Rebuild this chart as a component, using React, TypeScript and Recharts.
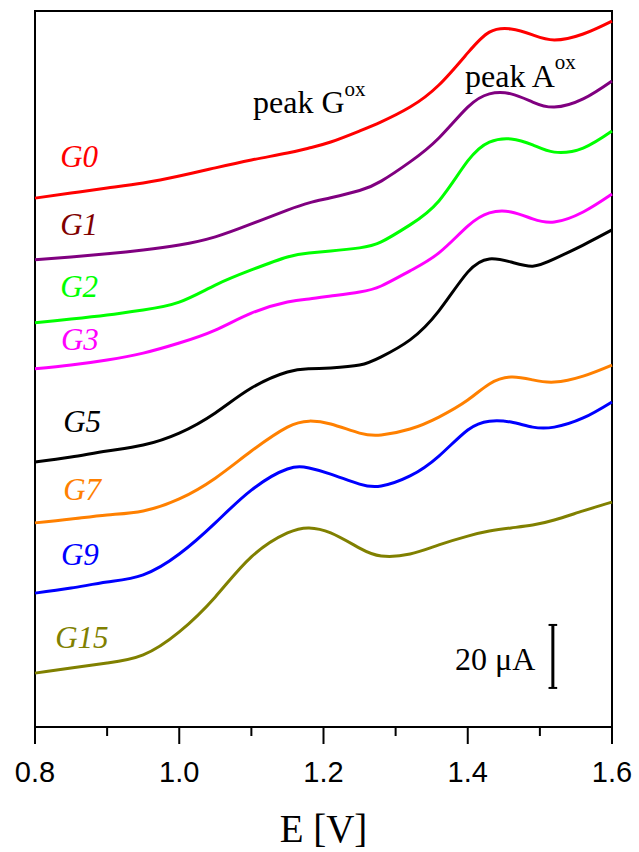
import { LineChart, Line, XAxis, YAxis, ReferenceDot, ReferenceLine, ReferenceArea } from 'recharts';

// potential [V] and offset currents [µA]
const potentials = [0.8, 0.85, 0.9, 0.95, 1.0, 1.05, 1.1, 1.15, 1.18, 1.21, 1.25, 1.28, 1.32, 1.36, 1.4, 1.43, 1.46, 1.49, 1.52, 1.56, 1.6];

const g0 = [167.9, 169.5, 171.1, 172.7, 174.9, 177.5, 180.0, 182.2, 183.8, 185.7, 189.2, 192.1, 196.8, 203.8, 214.0, 220.6, 221.6, 219.7, 218.1, 220.0, 224.1];
const g1 = [148.3, 149.2, 150.2, 151.4, 153.0, 155.6, 159.7, 164.1, 166.4, 168.0, 170.3, 173.3, 179.4, 187.0, 196.8, 201.0, 201.0, 198.4, 196.8, 199.4, 205.1];
const g2 = [128.3, 129.5, 130.8, 132.4, 134.9, 140.3, 145.1, 149.2, 150.5, 151.1, 152.1, 154.0, 159.4, 167.0, 179.7, 185.7, 186.7, 184.8, 182.5, 183.8, 189.2];
const g3 = [113.7, 114.9, 116.5, 118.7, 121.9, 126.0, 131.4, 134.9, 135.9, 136.8, 138.1, 140.0, 144.8, 150.5, 159.0, 163.2, 163.5, 161.3, 160.3, 163.5, 169.2];
const g5 = [84.1, 85.7, 87.6, 89.5, 93.3, 99.7, 107.6, 112.7, 113.7, 114.0, 114.9, 117.5, 122.9, 132.1, 144.4, 148.6, 147.6, 146.3, 148.6, 153.0, 157.8];
const g7 = [64.8, 66.0, 67.3, 68.6, 72.4, 79.0, 87.6, 95.2, 97.1, 96.2, 93.3, 92.7, 94.6, 98.4, 103.8, 108.9, 111.1, 110.2, 109.5, 111.4, 114.9];
const g9 = [42.5, 44.1, 46.0, 48.3, 54.9, 64.8, 75.2, 81.9, 82.2, 80.3, 77.1, 76.5, 79.7, 86.0, 94.3, 97.1, 96.8, 95.2, 95.2, 98.1, 103.2];
const g15 = [17.1, 18.7, 20.3, 22.9, 30.2, 41.3, 54.0, 61.6, 63.2, 61.6, 56.8, 54.3, 54.9, 57.8, 60.6, 62.2, 63.2, 64.1, 65.7, 68.6, 71.4];

const seriesNames = ['G0', 'G1', 'G2', 'G3', 'G5', 'G7', 'G9', 'G15'];
const seriesValues = [g0, g1, g2, g3, g5, g7, g9, g15];
const lineColors = ['#ff0000', '#800080', '#00ff00', '#ff00ff', '#000000', '#ff8000', '#0000ff', '#808000'];
const labelColors = ['#ff0000', '#800000', '#00ff00', '#ff00ff', '#000000', '#ff8000', '#0000ff', '#808000'];
// where each sample name is written (E, I)
const labelE = [0.835, 0.835, 0.835, 0.836, 0.839, 0.839, 0.836, 0.828];
const labelI = [177.8, 156.2, 136.5, 119.7, 93.7, 72.1, 51.4, 25.1];

const xTicks = [0.8, 0.9, 1.0, 1.1, 1.2, 1.3, 1.4, 1.5, 1.6];
const yMax = 227.3;

const data = potentials.map((e, i) => {
  const row: Record<string, number> = { E: e };
  seriesNames.forEach((name, k) => { row[name] = seriesValues[k][i]; });
  return row;
});

const serif = '"Liberation Serif", "Times New Roman", serif';
const sans = '"Liberation Sans", Arial, sans-serif';

function EnergyTick({ x, y, payload }: any) {
  const major = Math.round(payload.value * 10) % 2 === 0;
  return (
    <g>
      <line x1={x} x2={x} y1={y} y2={y + (major ? 17 : 9)} stroke="#000" strokeWidth={2} />
      {major && (
        <text x={x} y={y + 55} textAnchor="middle" fontFamily={sans} fontSize={29} fill="#000">
          {payload.value.toFixed(1)}
        </text>
      )}
    </g>
  );
}

const textAt = (render: (x: number, y: number) => any) => (props: any) => {
  const vb = props.viewBox || {};
  return render(vb.x, vb.y);
};

export default function App() {
  return (
    <div style={{ position: 'absolute', left: 0, top: 0, background: '#fff' }}>
      <LineChart width={639} height={852} data={data} margin={{ top: 11, right: 27, left: 35, bottom: 0 }}>
        <XAxis
          dataKey="E"
          type="number"
          domain={[0.8, 1.6]}
          ticks={xTicks}
          height={125}
          tickSize={0}
          tickMargin={0}
          tickLine={false}
          tick={<EnergyTick />}
          axisLine={{ stroke: '#000', strokeWidth: 2 }}
          interval={0}
        />
        <YAxis type="number" domain={[0, yMax]} hide allowDataOverflow />

        <ReferenceArea x1={0.8} x2={1.6} y1={0} y2={yMax} fill="none" stroke="#000" strokeWidth={2} ifOverflow="visible" />

        {seriesNames.map((name, k) => (
          <Line key={name} dataKey={name} type="natural" stroke={lineColors[k]} strokeWidth={3} dot={false} isAnimationActive={false} />
        ))}

        {seriesNames.map((name, k) => (
          <ReferenceDot
            key={'lab' + name}
            x={labelE[k]}
            y={labelI[k]}
            r={0}
            fill="none"
            stroke="none"
            ifOverflow="visible"
            label={textAt((x, y) => (
              <text x={x} y={y} fontFamily={serif} fontStyle="italic" fontSize={31} fill={labelColors[k]}>{name}</text>
            ))}
          />
        ))}

        <ReferenceDot x={1.1023} y={194.9} r={0} fill="none" stroke="none" ifOverflow="visible"
          label={textAt((x, y) => (
            <text x={x} y={y} fontFamily={serif} fontSize={32} fill="#000">
              peak G<tspan dy={-17} fontSize={21}>ox</tspan>
            </text>
          ))}
        />
        <ReferenceDot x={1.3962} y={203.2} r={0} fill="none" stroke="none" ifOverflow="visible"
          label={textAt((x, y) => (
            <text x={x} y={y} fontFamily={serif} fontSize={32} fill="#000">
              peak A<tspan dy={-18} fontSize={21}>ox</tspan>
            </text>
          ))}
        />

        <ReferenceLine segment={[{ x: 1.518, y: 12.4 }, { x: 1.518, y: 32.4 }]} stroke="#000" strokeWidth={3} ifOverflow="visible" />
        <ReferenceLine segment={[{ x: 1.512, y: 12.4 }, { x: 1.524, y: 12.4 }]} stroke="#000" strokeWidth={2} ifOverflow="visible" />
        <ReferenceLine segment={[{ x: 1.512, y: 32.4 }, { x: 1.524, y: 32.4 }]} stroke="#000" strokeWidth={2} ifOverflow="visible" />
        <ReferenceDot x={1.3823} y={18.1} r={0} fill="none" stroke="none" ifOverflow="visible"
          label={textAt((x, y) => (
            <text x={x} y={y} fontFamily={serif} fontSize={32} fill="#000">20 μA</text>
          ))}
        />

        <ReferenceDot x={1.2} y={-36.5} r={0} fill="none" stroke="none" ifOverflow="visible"
          label={textAt((x, y) => (
            <text x={x} y={y} textAnchor="middle" fontFamily={serif} fontSize={39} fill="#000">E [V]</text>
          ))}
        />
      </LineChart>
    </div>
  );
}
